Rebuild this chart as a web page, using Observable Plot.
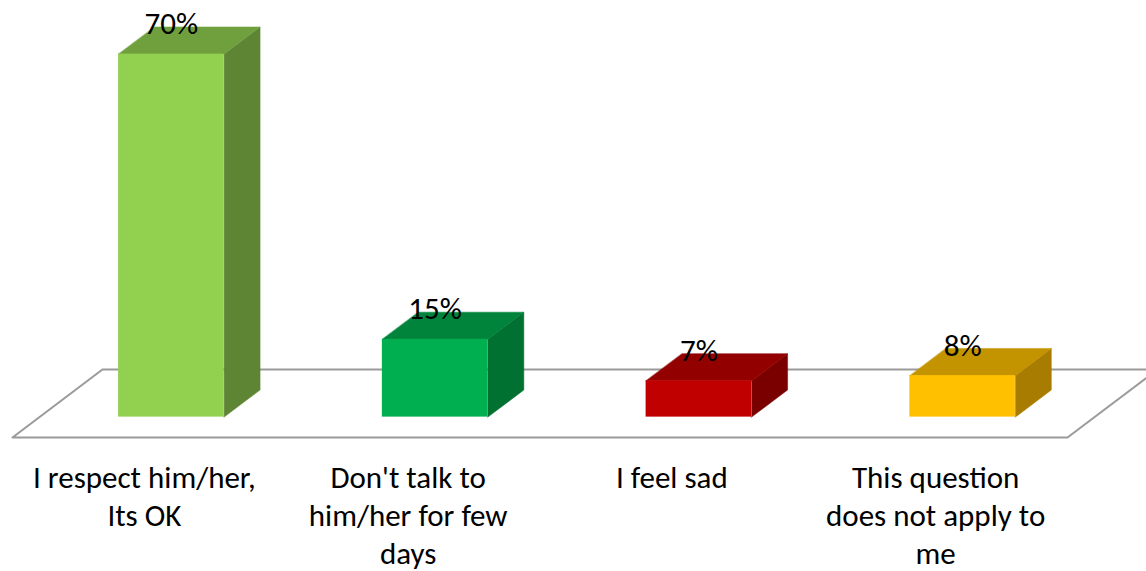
<!DOCTYPE html>
<html>
<head>
<meta charset="utf-8">
<script src="https://cdn.jsdelivr.net/npm/d3@7"></script>
<script src="https://cdn.jsdelivr.net/npm/@observablehq/plot@0.6"></script>
<style>
  html, body { margin: 0; padding: 0; background: #fff; }
  #chart svg { display: block; }
</style>
</head>
<body>
<div id="chart"></div>
<script>
// Responses and their shares (%)
const categories = [
  "I respect him/her,\nIts OK",
  "Don't talk to\nhim/her for few\ndays",
  "I feel sad",
  "This question\ndoes not apply to\nme"
];
const values = [70, 15, 7, 8];

// Face colours per bar: front, top, side
const frontColors = ["#92D050", "#00B050", "#C00000", "#FFC000"];
const topColors   = ["#6FA03D", "#00843C", "#920000", "#C49300"];
const sideColors  = ["#5E8534", "#007130", "#7A0000", "#A87C00"];

// Oblique projection: depth d in [0,1] shifts x (category units) and y (value units)
const skewX = 0.341;   // category units per unit depth
const skewY = 13.1;    // value units per unit depth
const dFront = 0.3, dBack = 0.7, halfW = 0.2;
const proj = (u, d, h) => ({x: u + d * skewX, y: h + d * skewY});

const fronts = [], tops = [], sides = [], floor = [];
values.forEach((v, i) => {
  const c = i + 0.5, u0 = c - halfW, u1 = c + halfW;
  const a = proj(u0, dFront, 0), b = proj(u1, dFront, v);
  fronts.push({x1: a.x, x2: b.x, y1: a.y, y2: b.y, color: frontColors[i]});
  [[u0, dFront], [u1, dFront], [u1, dBack], [u0, dBack]].forEach(([u, d]) =>
    tops.push({...proj(u, d, v), id: i, color: topColors[i]}));
  [[dFront, 0], [dBack, 0], [dBack, v], [dFront, v]].forEach(([d, h]) =>
    sides.push({...proj(u1, d, h), id: i, color: sideColors[i]}));
});
[[0, 0], [categories.length, 0], [categories.length, 1], [0, 1]].forEach(([u, d]) =>
  floor.push(proj(u, d, 0)));

const labels = values.map((v, i) => ({...proj(i + 0.5, dFront, v), text: `${v}%`}));
const catLabels = categories.map((t, i) => ({...proj(i + 0.5, 0, 0), text: t}));

const font = "Carlito, Calibri, Lato, sans-serif";
const fs = 31;
const lineGap = 38.5;

const chart = Plot.plot({
  width: 1146,
  height: 571,
  x: {domain: [0, 4], range: [12, 1067], axis: null},
  y: {domain: [0, 70], range: [437, 74], axis: null},
  color: {type: "identity"},
  style: {fontFamily: font, background: "#fff"},
  marks: [
    Plot.line(floor, {x: "x", y: "y", curve: "linear-closed", stroke: "#9A9A9A", strokeWidth: 2, fill: "none"}),
    Plot.line(sides, {x: "x", y: "y", z: "id", fill: "color", stroke: "color", strokeWidth: 0.5, curve: "linear-closed"}),
    Plot.line(tops, {x: "x", y: "y", z: "id", fill: "color", stroke: "color", strokeWidth: 0.5, curve: "linear-closed"}),
    Plot.rect(fronts, {x1: "x1", x2: "x2", y1: "y1", y2: "y2", fill: "color"}),
    Plot.text(labels, {x: "x", y: "y", text: "text", dy: -20, lineAnchor: "bottom", fontSize: fs, fill: "#000"}),
    Plot.text(catLabels, {x: "x", y: "y", text: "text", dy: 50 - 0.71 * lineGap, lineAnchor: "top", lineHeight: lineGap / fs, fontSize: fs, fill: "#000"})
  ]
});
document.getElementById("chart").append(chart);
</script>
</body>
</html>
